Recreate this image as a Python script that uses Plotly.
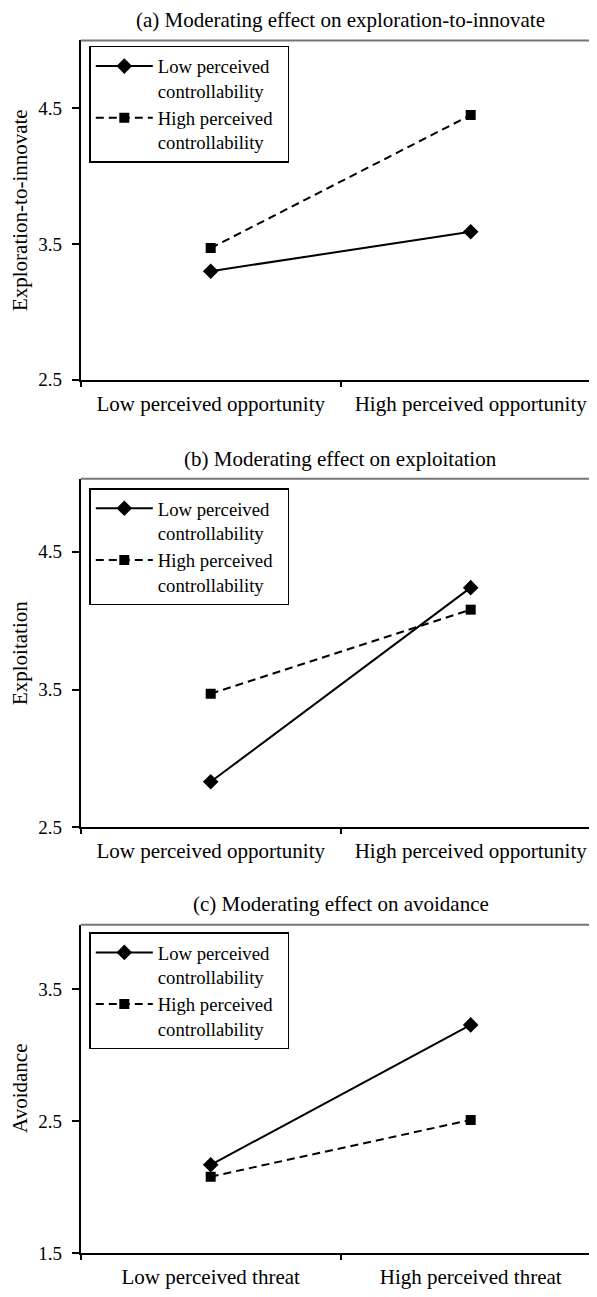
import plotly.graph_objects as go

# the page body adds an 8px margin on every side; the figure is sized so the
# whole page is exactly 597x1297, and reference pixel positions are shifted.
OFF = 8
PAGE_W, PAGE_H = 597, 1297
W, H = PAGE_W - 2 * OFF, PAGE_H - 2 * OFF

# ---- data ----
cats_opportunity = ["Low perceived opportunity", "High perceived opportunity"]
cats_threat = ["Low perceived threat", "High perceived threat"]
series_names = ["Low perceived<br>controllability",
                "High perceived&nbsp;&nbsp;<br>controllability"]

a_low_ctrl = [3.30, 3.59]
a_high_ctrl = [3.47, 4.45]
b_low_ctrl = [2.83, 4.24]
b_high_ctrl = [3.47, 4.08]
c_low_ctrl = [2.17, 3.23]
c_high_ctrl = [2.08, 2.51]

panel_titles = ["(a) Moderating effect on exploration-to-innovate",
                "(b) Moderating effect on exploitation",
                "(c) Moderating effect on avoidance"]
y_titles = ["Exploration-to-innovate", "Exploitation", "Avoidance"]
y_ranges = [[2.5, 5.0], [2.5, 5.03], [1.5, 3.99]]
y_ticks = [[2.5, 3.5, 4.5], [2.5, 3.5, 4.5], [1.5, 2.5, 3.5]]

panels = [
    (cats_opportunity, a_low_ctrl, a_high_ctrl),
    (cats_opportunity, b_low_ctrl, b_high_ctrl),
    (cats_threat, c_low_ctrl, c_high_ctrl),
]

# ---- layout geometry (reference page pixels) ----
left_px = 80.7
tops_px = [40.7, 483.3, 933.3]
bottoms_px = [383.3, 835.0, 1265.0]
legend_tops_px = [46.3, 492.7, 941.0]
cat_width_px = 260.0
x_right = -0.5 + (OFF + W - left_px) / cat_width_px


def px_x(p):
    return (p - OFF) / W


def px_y(p):
    return 1 - (p - OFF) / H


FONT = "Liberation Serif, Times New Roman, serif"

fig = go.Figure()
layout = dict(
    width=W, height=H,
    margin=dict(l=0, r=0, t=0, b=0),
    paper_bgcolor="white", plot_bgcolor="white",
    font=dict(family=FONT, size=21, color="black"),
    showlegend=True,
)
annotations = []
shapes = []

for i, (cats, low, high) in enumerate(panels):
    n = "" if i == 0 else str(i + 1)
    xa, ya = "x" + n, "y" + n
    leg = "legend" + n
    fig.add_trace(go.Scatter(
        x=[0, 1], y=low, mode="lines+markers", name=series_names[0],
        xaxis=xa, yaxis=ya, legend=leg,
        line=dict(color="black", width=2),
        marker=dict(symbol="diamond", size=12, color="black"),
    ))
    fig.add_trace(go.Scatter(
        x=[0, 1], y=high, mode="lines+markers", name=series_names[1],
        xaxis=xa, yaxis=ya, legend=leg,
        line=dict(color="black", width=2, dash="8px,5px"),
        marker=dict(symbol="square", size=10, color="black"),
    ))
    y0 = px_y(bottoms_px[i])
    y1 = px_y(tops_px[i])
    layout["xaxis" + n] = dict(
        domain=[px_x(left_px), 1], anchor=ya, range=[-0.5, x_right],
        tickvals=[0, 1], ticktext=cats, ticks="", showgrid=False, zeroline=False,
        showline=True, linecolor="black", linewidth=2,
        ticklabelstandoff=4, tickfont=dict(size=21),
        minor=dict(tickvals=[-0.5, 0.5], ticks="outside", ticklen=5,
                   tickwidth=1.5, tickcolor="black", showgrid=False),
        fixedrange=True,
    )
    layout["yaxis" + n] = dict(
        domain=[y0, y1], anchor=xa, range=y_ranges[i],
        tickvals=y_ticks[i], tickformat=".1f", ticks="outside", ticklen=7,
        tickwidth=1.5, tickcolor="black", showgrid=False, zeroline=False,
        showline=True, linecolor="black", linewidth=2,
        ticklabelstandoff=6, tickfont=dict(size=19),
        fixedrange=True,
    )
    # gray top border
    shapes.append(dict(type="line", xref=xa + " domain", yref=ya + " domain",
                       x0=0, x1=1, y0=1, y1=1,
                       line=dict(color="#777777", width=2)))
    # panel title
    annotations.append(dict(
        text=panel_titles[i], xref="paper", yref="paper",
        x=px_x(left_px + cat_width_px), y=px_y(tops_px[i] - 20.5),
        xanchor="center", yanchor="middle", showarrow=False,
        font=dict(size=21)))
    # y axis title
    annotations.append(dict(
        text=y_titles[i], xref="paper", yref="paper",
        x=px_x(20), y=(y0 + y1) / 2, textangle=-90,
        xanchor="center", yanchor="middle", showarrow=False,
        font=dict(size=21)))
    # legend box
    layout[leg] = dict(
        x=px_x(89.3), y=px_y(legend_tops_px[i]), xanchor="left", yanchor="top",
        bgcolor="white", bordercolor="black", borderwidth=1.5,
        font=dict(size=18.7, family=FONT), itemwidth=57, valign="top",
        tracegroupgap=0,
    )

layout["annotations"] = annotations
layout["shapes"] = shapes
fig.update_layout(**layout)
fig.write_html("out.html")
